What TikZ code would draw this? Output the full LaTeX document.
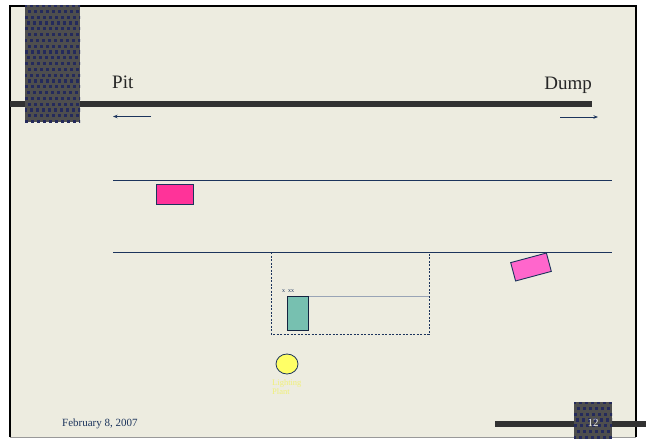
\documentclass[tikz,border=0pt]{standalone}
\usepackage{fontspec}
\setmainfont{Liberation Serif}
\usetikzlibrary{arrows.meta, shapes.geometric, positioning}
\definecolor{slidebg}{RGB}{237,236,224}
\definecolor{barcol}{RGB}{50,50,50}
\definecolor{tilegray}{RGB}{78,78,78}
\definecolor{tilenavy}{RGB}{36,42,92}
\definecolor{roadnavy}{RGB}{28,52,92}
\definecolor{truckpink}{RGB}{255,51,153}
\definecolor{loadpink}{RGB}{255,102,204}
\definecolor{shovelteal}{RGB}{119,192,176}
\definecolor{lampyellow}{RGB}{255,255,102}
\definecolor{labelyellow}{RGB}{240,240,120}

\begin{document}
\begin{tikzpicture}[x=1pt, y=-1pt,
                road/.style={draw=roadnavy, line width=0.9pt},
                bar/.style={fill=barcol},
                vehicle/.style={draw=roadnavy, line width=0.9pt, inner sep=0pt},
                heading/.style={font=\fontsize{19}{22}\selectfont, text=black!85, inner sep=0pt},
                footer/.style={font=\fontsize{11}{13}\selectfont, inner sep=0pt},
                dirarrow/.style={-{Stealth[length=4.5pt, width=3.5pt]}, draw=roadnavy, line width=0.8pt}]
                \useasboundingbox (0,0) rectangle (646,439);
                % slide background and frame
                \fill[slidebg] (10,6) rectangle (636,437);
                \draw[black, line width=1.6pt] (10,437) -- (10,6) -- (636,6) -- (636,437);
                \draw[black!40, line width=0.8pt] (10,437) -- (636,437);

                % top bar and tile
                \fill[bar] (10,101) rectangle (592,107);
                \begin{scope}
                  \clip (25,5) rectangle (80,122);
                  \fill[tilegray] (25,5) rectangle (80,122);
                  \foreach \i in {0,...,9}
                    \foreach \j in {0,...,20} {
                      \pgfmathsetmacro\xo{24+\i*6+mod(\j,2)*3+mod(\i*3+\j*5,3)*0.6}
                      \fill[tilenavy] (\xo,4+\j*5.8) rectangle ++(3.2,3.2);
                    }
                \end{scope}

                % bottom bar and tile
                \fill[bar] (495,421) rectangle (646,427);
                \begin{scope}
                  \clip (574,402) rectangle (612,439);
                  \fill[tilegray] (574,402) rectangle (612,439);
                  \foreach \i in {0,...,6}
                    \foreach \j in {0,...,6} {
                      \pgfmathsetmacro\xo{573+\i*6+mod(\j,2)*3+mod(\i*3+\j*5,3)*0.6}
                      \fill[tilenavy] (\xo,401+\j*5.8) rectangle ++(3.2,3.2);
                    }
                \end{scope}

                % headings and direction arrows
                \node[heading, anchor=base west] (pit) at (112,88) {Pit};
                \node[heading, anchor=base east] (dump) at (592,89) {Dump};
                \coordinate (pitR) at (151,116.5);
                \coordinate (pitL) at (113,116.5);
                \coordinate (dumpL) at (560,117);
                \coordinate (dumpR) at (598,117);
                \draw[dirarrow] (pitR) -- (pitL);
                \draw[dirarrow] (dumpL) -- (dumpR);

                % haul road
                \draw[road] (113,180) -- (612,180);
                \draw[road] (113,252) -- (612,252);

                % trucks
                \node[vehicle, fill=truckpink, minimum width=37pt, minimum height=20pt]
                      (truck) at (174.5,194) {};
                \node[vehicle, fill=loadpink, minimum width=37pt, minimum height=19pt, rotate=15]
                      (loaded) at (531,267) {};

                % loading area
                \draw[roadnavy, line width=0.9pt, dash pattern=on 2pt off 1.5pt] (271,252) rectangle (429,334);
                \node[vehicle, fill=shovelteal, draw=roadnavy!70!black, minimum width=21pt,
                      minimum height=34pt, anchor=north west] (shovel) at (287,296) {};
                \draw[roadnavy!45, line width=1pt] (shovel.north east) -- (429,296);
                \node[font=\fontsize{6}{7}\selectfont, text=roadnavy, inner sep=0pt,
                      anchor=base west] (marks) at (282,292) {x\ \ xx};

                % lighting plant
                \node[draw=roadnavy, line width=0.8pt, fill=lampyellow, ellipse,
                      minimum width=22pt, minimum height=20pt, inner sep=0pt]
                      (lamp) at (287,364) {};
                \node[font=\fontsize{8.5}{9}\selectfont, text=labelyellow, align=left,
                      inner sep=0pt, anchor=north west] (lamplabel) at (272,379) {Lighting\\Plant};

                % footer
                \node[footer, text=roadnavy, anchor=base west] (date) at (62,426) {February 8, 2007};
                \node[footer, text=white!85!gray, anchor=base] (pagenum) at (593,426) {12};
            \end{tikzpicture}
\end{document}
